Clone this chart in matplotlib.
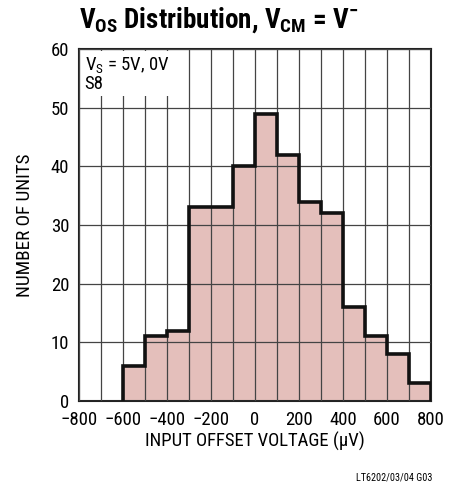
import matplotlib
matplotlib.use("Agg")
import matplotlib.pyplot as plt
import numpy as np

# histogram of input offset voltage (uV), 100 uV bins
bin_edges = [-600, -500, -400, -300, -200, -100, 0, 100, 200, 300, 400, 500, 600, 700, 800]
counts = [6, 11, 12, 33, 33, 40, 49, 42, 34, 32, 16, 11, 8, 3]
x_ticks = [-800, -600, -400, -200, 0, 200, 400, 600, 800]
x_tick_labels = ["\u2212800", "\u2212600", "\u2212400", "\u2212200", "0", "200", "400", "600", "800"]
y_ticks = [0, 10, 20, 30, 40, 50, 60]

FONT = ["Roboto Condensed", "Archivo Narrow", "DejaVu Sans"]
plt.rcParams["font.family"] = FONT
plt.rcParams["mathtext.fontset"] = "custom"
plt.rcParams["mathtext.rm"] = "Roboto Condensed"
plt.rcParams["mathtext.bf"] = "Roboto Condensed:bold"

fig = plt.figure(figsize=(4.61, 4.87), dpi=100)
ax = fig.add_axes([0.1714, 0.1766, 0.7636, 0.7228])

ax.stairs(counts, bin_edges, fill=True, color="#e4bfbb", zorder=1)
ax.stairs(counts, bin_edges, baseline=0, fill=False, color="#111111", lw=2.6, zorder=3)

ax.set_xlim(-800, 800)
ax.set_ylim(0, 60)
ax.set_xticks(x_ticks)
ax.set_xticklabels(x_tick_labels)
ax.set_xticks(np.arange(-800, 801, 100), minor=True)
ax.set_yticks(y_ticks)
ax.tick_params(axis="both", which="both", length=0, labelsize=13.5)
ax.tick_params(axis="x", pad=7.5)
ax.tick_params(axis="y", pad=7)
ax.grid(True, which="both", color="#444444", lw=0.9)
ax.set_axisbelow(False)
for s in ax.spines.values():
    s.set_linewidth(1.5)
    s.set_color("#222222")

ax.set_xlabel("INPUT OFFSET VOLTAGE (\u00b5V)", fontsize=13.5, labelpad=2)
ax.set_ylabel("NUMBER OF UNITS", fontsize=13.8, labelpad=12)

ax.text(-775, 58.9, "V$_\\mathrm{S}$ = 5V, 0V\nS8", fontsize=13.5, va="top", ha="left",
        linespacing=0.92, zorder=4,
        bbox=dict(facecolor="white", edgecolor="none", pad=2.5))

fig.text(0.172, 0.958,
         r"$\mathbf{V_{OS}}$ Distribution, $\mathbf{V_{CM}}$ = V$^{\mathbf{-}}$",
         fontsize=19.5, fontweight="bold", ha="left", va="center")

fig.text(0.937, 0.009, "LT6202/03/04 G03", fontsize=7.3, ha="right", va="bottom")

fig.savefig("out.png", dpi=100)
